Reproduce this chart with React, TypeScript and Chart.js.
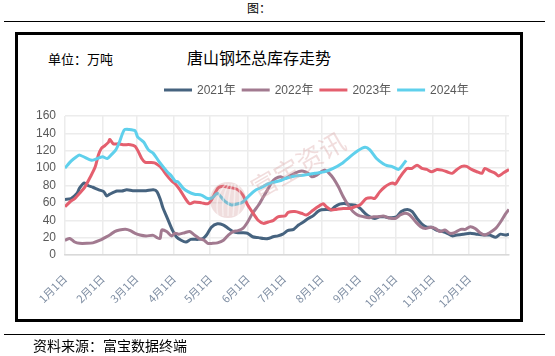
import React, { useEffect, useRef } from "react";
import { Chart, registerables } from "chart.js";

Chart.register(...registerables);

// ---- data ----
const seriesNames = ["2021年", "2022年", "2023年", "2024年"];
const seriesColors = ["#46637f", "#a27a90", "#e45f6e", "#5fd0ec"];

const monthTicks = [0, 31, 59, 90, 120, 151, 181, 212, 243, 273, 304, 334, 364];
const monthLabels = ["1月1日", "2月1日", "3月1日", "4月1日", "5月1日", "6月1日", "7月1日", "8月1日", "9月1日", "10月1日", "11月1日", "12月1日", ""];
const yMin = 0;
const yMax = 160;
const yStep = 20;

const days2021 = [0, 5, 10, 12, 16, 19, 23, 28, 32, 34.5, 37, 43, 47, 51, 56, 62, 67, 73, 76, 79, 81, 85, 89, 92, 96, 100, 104, 110, 114, 117, 121, 126, 131, 135, 139, 143, 147, 151, 155, 160, 164, 168, 172, 176, 180, 184, 189, 193, 197, 201, 205, 209, 212, 216, 220, 223, 227, 231, 235, 240, 244, 248, 252, 256, 260, 264, 268, 274, 278, 283, 287, 291, 295, 299, 303, 307, 312, 316, 320, 324, 329, 335, 340, 346, 351, 356, 360, 364, 367];
const vals2021 = [64, 65, 71, 77, 83, 80, 78, 75, 73, 68, 70, 73.6, 73.6, 75, 74, 74, 74, 75, 73, 63, 54, 41, 28, 21, 17, 15, 18, 18, 19, 23, 32, 36, 34.5, 30.6, 27, 25.7, 25.7, 25, 21, 20, 19, 19, 21, 22, 24, 28, 29.5, 34.5, 38, 42, 45, 50, 52, 52.5, 52, 55.5, 58.6, 59.4, 58, 57.5, 53.6, 48, 44, 42, 44, 44, 43, 44, 50, 52.5, 50, 42, 35.6, 32, 32, 28.7, 27, 25, 22, 23, 24, 25, 24, 23, 23, 20.3, 24, 23, 24];

const days2022 = [0, 4, 8, 12, 18, 23, 29, 33, 37, 41, 45, 50, 54, 58, 62, 67, 73, 76, 78.6, 80, 84, 88, 91, 94, 99, 103, 107, 111, 115, 118, 122, 126, 131, 135, 139, 143, 147, 151, 155, 160, 164, 168, 171, 174, 178, 182, 187, 193, 197, 201, 204, 208, 212, 215, 218, 222, 226, 230, 234, 238, 242, 247, 251, 255, 259, 263, 267, 273, 277, 281, 285, 290, 294, 298, 302, 306, 310, 314, 318, 322, 327, 331, 335, 339, 343, 347, 351, 356, 360, 364, 367];
const vals2022 = [17, 19, 15, 13.4, 13.4, 14, 17, 20, 23, 27, 28.7, 29.5, 28, 25, 23, 22, 22.6, 20, 19, 28.7, 27, 22, 25, 24, 25.7, 27, 23, 19, 17, 13.4, 13.4, 14, 17, 23, 27, 28, 30.6, 38, 48, 57.5, 67, 76.6, 84, 88, 90, 88, 92, 96, 96.5, 94, 90, 92, 96, 97.7, 94.6, 88, 78.5, 67, 57.5, 50, 46, 44, 43, 44, 44, 45, 43, 42, 46, 48, 46, 38, 32.6, 30.6, 32, 30.6, 27, 28.7, 25, 25.7, 29.5, 29.5, 32.6, 30.6, 25.7, 23, 25.7, 30.6, 38, 47, 52.5];

const days2023 = [0, 4, 8, 12, 16.5, 21, 25, 27.6, 30, 33, 36, 37, 40, 44, 48, 54, 58, 60.6, 63.4, 66, 70, 74, 77, 80, 84, 88, 91, 95, 99, 103, 107, 113, 118, 121, 126.5, 131, 135, 139, 143, 147, 151, 155.5, 159.6, 164, 168, 172, 176, 182, 184.5, 190, 195.5, 199.6, 203.7, 209, 213.4, 216, 220, 224, 230, 235.5, 239.6, 243.7, 249, 253, 256, 260, 264, 268.5, 271, 273, 277, 282.6, 286.6, 291, 295, 299, 303, 307.5, 311.6, 315.7, 320, 324, 328, 332, 336, 340.5, 344.6, 347, 351.5, 355.7, 358.4, 362.5, 367];
const vals2023 = [55.5, 61, 65, 71, 78.5, 90, 101.5, 115, 122.6, 126, 130, 133, 128, 128, 127, 127, 125, 119, 111, 107, 106.5, 106, 103.4, 99.6, 92, 85.4, 82, 75, 66, 59, 61, 60, 59, 63, 77, 79, 78, 77, 75, 69, 57.5, 48, 40, 36.4, 38, 39.5, 44, 45, 49, 50, 48, 46, 50, 55.5, 59, 55.5, 52, 52.5, 53.6, 53.6, 55.5, 57.5, 65, 66, 65, 72.4, 78, 82, 83, 81.6, 90, 99.6, 99.6, 103.4, 99.6, 98.5, 95.8, 98.5, 97.7, 95.8, 94, 98.5, 102, 102, 98.5, 95.8, 94, 99.6, 96.5, 94, 91, 94.6, 98.5];

const days2024 = [0, 5, 9.5, 12, 22, 25, 31, 35, 38, 42, 45, 49, 53, 58, 60, 65, 69, 73, 77, 82, 85, 88, 91, 93.5, 97.6, 101.7, 107, 112.7, 118, 122, 126, 132, 137.6, 143, 147, 152.7, 158, 164, 168, 173.5, 179, 182, 190, 198, 206.5, 215, 221.7, 228.5, 235.5, 242, 248, 252, 257.5, 263, 266, 270, 275.7, 278, 282];
const vals2024 = [100, 108, 113, 115, 109, 110, 113, 111, 115, 121, 130, 144, 144.5, 143, 136, 130, 121, 117, 109, 100, 95, 91, 85, 84, 77, 73, 70, 69, 65, 66, 71, 62, 57.5, 59, 61, 69, 75, 79, 82, 84, 86, 88, 91, 92, 94, 96, 99.6, 105, 113, 120, 124, 121, 111, 105, 103, 102, 98.5, 101.5, 109];

const seriesDays = [days2021, days2022, days2023, days2024];
const seriesVals = [vals2021, vals2022, vals2023, vals2024];

const chartTitle = "唐山钢坯总库存走势";
const unitText = "单位：万吨";
const figureText = "图：";
const sourceText = "资料来源：富宝数据终端";
const watermarkText = "富宝资讯";

const W = 555;
const H = 356;

const overlayPlugin = {
  id: "overlay",
  afterDatasetsDraw(chart: any) {
    const ctx = chart.ctx;
    ctx.save();
    ctx.globalAlpha = 0.28;
    ctx.fillStyle = "#c98a8a";
    ctx.beginPath();
    ctx.arc(228, 200, 18, 0, Math.PI * 2);
    ctx.fill();
    ctx.globalAlpha = 0.5;
    ctx.strokeStyle = "#ffffff";
    ctx.lineWidth = 1.5;
    for (let k = -2; k <= 2; k++) {
      ctx.beginPath();
      ctx.moveTo(228 + k * 5, 216);
      ctx.quadraticCurveTo(228 + k * 7, 196, 228 + k * 3 + 4, 184);
      ctx.stroke();
    }
    ctx.restore();
    ctx.save();
    ctx.globalAlpha = 0.38;
    ctx.fillStyle = "#d9a5a5";
    ctx.translate(298, 165);
    ctx.rotate((-30 * Math.PI) / 180);
    ctx.font = '26px "Noto Sans CJK SC"';
    ctx.textAlign = "center";
    ctx.textBaseline = "middle";
    ctx.fillText(watermarkText, 0, 0);
    ctx.restore();
  },
  afterDraw(chart: any) {
    const ctx = chart.ctx;
    ctx.save();
    ctx.font = '12px "Liberation Sans", "Noto Sans CJK SC"';
    ctx.textBaseline = "middle";
    let x = 164;
    const y = 90;
    chart.data.datasets.forEach((ds: any) => {
      ctx.strokeStyle = ds.borderColor;
      ctx.lineWidth = 3;
      ctx.beginPath();
      ctx.moveTo(x, y);
      ctx.lineTo(x + 28, y);
      ctx.stroke();
      ctx.fillStyle = "#595959";
      ctx.textAlign = "left";
      ctx.fillText(ds.label, x + 33, y + 0.5);
      x += 33 + ctx.measureText(ds.label).width + 6;
    });
    ctx.restore();
  },
};

export default function App() {
  const canvasRef = useRef<HTMLCanvasElement | null>(null);

  useEffect(() => {
    const canvas = canvasRef.current;
    if (!canvas) return;
    const datasets = seriesNames.map((name, i) => ({
      label: name,
      data: seriesDays[i].map((d, j) => ({ x: d, y: seriesVals[i][j] })),
      borderColor: seriesColors[i],
      backgroundColor: seriesColors[i],
      borderWidth: 3,
      pointRadius: 0,
      tension: 0.25,
      fill: false,
      order: 4 - i,
    }));
    const chart = new Chart(canvas, {
      type: "line",
      data: { datasets },
      options: {
        animation: false,
        responsive: false,
        devicePixelRatio: 1,
        layout: { padding: { left: 0, right: 46, top: 116, bottom: 0 } },
        plugins: { legend: { display: false }, title: { display: false }, tooltip: { enabled: false } },
        scales: {
          x: {
            type: "linear",
            min: 0,
            max: 367,
            afterBuildTicks: (s: any) => {
              s.ticks = monthTicks.map((v) => ({ value: v }));
            },
            afterFit: (s: any) => {
              s.height = H - 255;
            },
            ticks: {
              autoSkip: false,
              minRotation: 45,
              maxRotation: 45,
              padding: 17,
              color: "#7f8ea3",
              font: { family: '"Noto Sans CJK SC"', size: 11 },
              callback: (_v: any, idx: number) => monthLabels[idx],
            },
            grid: { color: "#ececec", lineWidth: 1.5, drawTicks: false },
            border: { color: "#d9d9d9", width: 1.5 },
          },
          y: {
            min: yMin,
            max: yMax,
            afterFit: (s: any) => {
              s.width = 65;
            },
            ticks: {
              stepSize: yStep,
              autoSkip: false,
              padding: 9,
              color: "#595959",
              font: { family: '"Liberation Sans"', size: 12 },
            },
            grid: { color: "#ececec", lineWidth: 1.5, drawTicks: false },
            border: { display: false },
          },
        },
      },
      plugins: [overlayPlugin],
    } as any);
    return () => chart.destroy();
  }, []);

  const abs = (s: any) => ({ position: "absolute", ...s } as React.CSSProperties);

  return (
    <div style={abs({ left: 0, top: 0, width: W, height: H, background: "#fff", fontFamily: '"Noto Sans CJK SC", sans-serif', color: "#000", overflow: "hidden" })}>
      <div style={abs({ left: 247, top: 1, fontSize: 12, lineHeight: "14px", whiteSpace: "nowrap" })}>{figureText}</div>
      <div style={abs({ left: 4, top: 21, width: 541, height: 0, borderTop: "1px solid #000" })} />
      <div style={abs({ left: 15, top: 32, width: 508, height: 290, border: "3px solid #000", boxSizing: "border-box" })} />
      <div style={abs({ left: 48, top: 50, fontSize: 13, lineHeight: "18px", whiteSpace: "nowrap" })}>{unitText}</div>
      <div style={abs({ left: 187, top: 47, fontSize: 16, lineHeight: "20px", whiteSpace: "nowrap" })}>{chartTitle}</div>
      <canvas ref={canvasRef} width={W} height={H} style={abs({ left: 0, top: 0, width: W, height: H })} />
      <div style={abs({ left: 4, top: 334, width: 541, height: 0, borderTop: "1px solid #000" })} />
      <div style={abs({ left: 33, top: 336, fontSize: 14, lineHeight: "18px", whiteSpace: "nowrap" })}>{sourceText}</div>
    </div>
  );
}
